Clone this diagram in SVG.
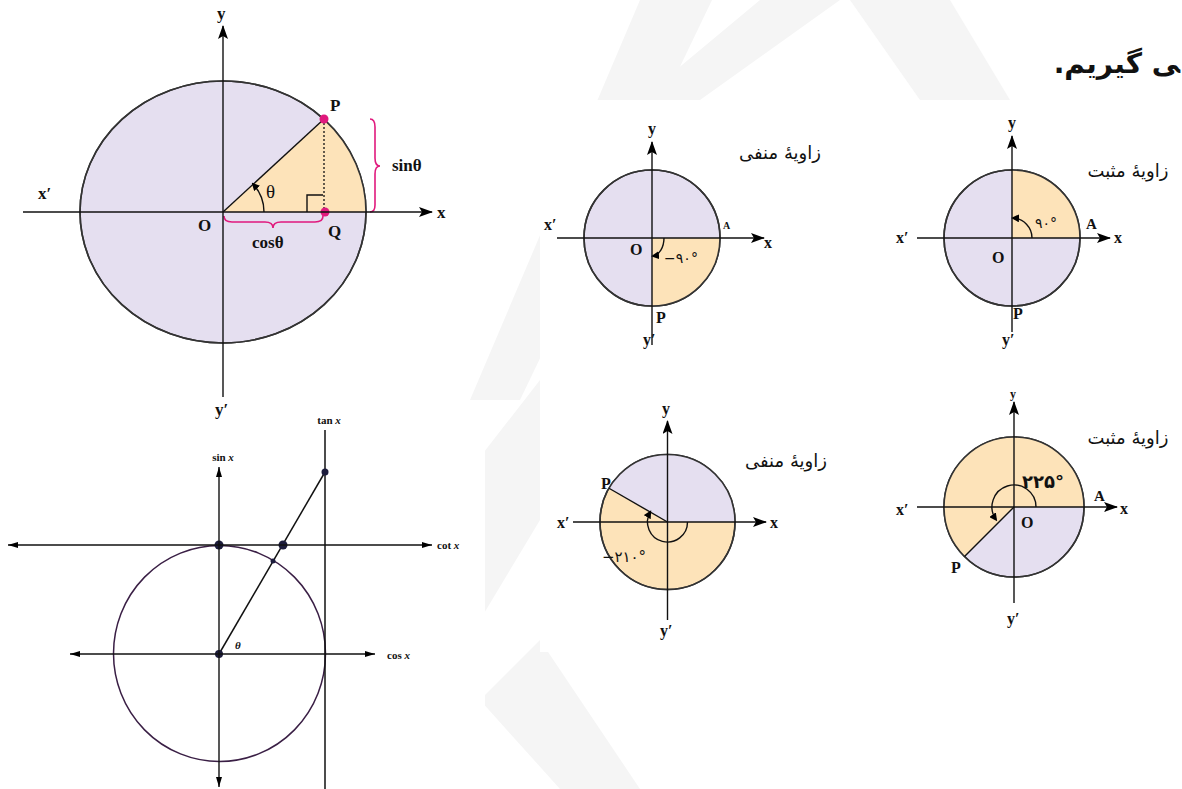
<svg xmlns="http://www.w3.org/2000/svg" width="1182" height="789" viewBox="0 0 1182 789">
<defs>
<marker id="arr" markerUnits="userSpaceOnUse" markerWidth="14" markerHeight="10" refX="13" refY="5" orient="auto-start-reverse"><path d="M0,0 L14,5 L0,10 L3,5 z" fill="#000"/></marker>
<marker id="arrs" markerUnits="userSpaceOnUse" markerWidth="10" markerHeight="6" refX="10" refY="3" orient="auto-start-reverse"><path d="M0,0 L10,3 L0,6 z" fill="#000"/></marker>
<marker id="tip" markerUnits="userSpaceOnUse" markerWidth="8" markerHeight="8" refX="6" refY="4" orient="auto"><path d="M0,0 L8,4 L0,8 z" fill="#000"/></marker>
</defs>
<style>
.ax{stroke:#111;stroke-width:1.4;fill:none}
.cir{stroke:#333;stroke-width:1.6}
.pur{fill:#e5dff0}
.ora{fill:#fde3b9}
.ln{stroke:#111;stroke-width:1.4;fill:none}
.lb{font-family:"Liberation Serif",serif;font-weight:bold;fill:#111}
.fa{font-family:"DejaVu Sans",sans-serif;fill:#111}
.mag{stroke:#e0197d;stroke-width:1.6;fill:none}
.dot{fill:#1c1c3c}
</style>
<rect width="1182" height="789" fill="#fff"/>
<g id="watermark" fill="#f5f5f5">
<polygon points="640,0 712,0 520,400 470,400"/>
<polygon points="760,0 840,0 700,100 640,100"/>
<polygon points="850,0 950,0 1010,100 920,100"/>
<polygon points="470,470 540,380 540,520 480,620"/>
<polygon points="480,700 540,640 640,789 560,789"/>
</g>
<rect x="0" y="18" width="460" height="385" fill="#fff"/>
<rect x="0" y="405" width="485" height="384" fill="#fff"/>
<rect x="540" y="100" width="642" height="552" fill="#fff"/>
<text class="fa" x="1180" y="73" font-size="28" font-weight="bold" direction="rtl" text-anchor="start">&#x200D;ی گیریم.</text>

<g id="main-circle">
<ellipse class="pur cir" cx="223" cy="212" rx="143" ry="131"/>
<path class="ora" d="M223,212 L324,119 A143,131 0 0,1 366,212 Z"/>
<ellipse cx="223" cy="212" rx="143" ry="131" fill="none" class="cir"/>
<line class="ln" x1="223" y1="212" x2="324" y2="119"/>
<line x1="324" y1="119" x2="324" y2="212" stroke="#111" stroke-width="1.3" stroke-dasharray="2,2"/>
<path class="ln" d="M307,212 V195 H323" stroke-width="1.2"/>
<path class="ln" d="M264,212 A41,41 0 0,0 253,184" stroke-width="1.3" marker-end="url(#tip)"/>
<path class="mag" d="M370,119 Q375,119 375,127 L375,158 Q375,166 380,166 Q375,166 375,174 L375,205 Q375,212 370,212"/>
<path class="mag" d="M224,216 Q224,222 232,222 L265,222 Q273,222 273,228 Q273,222 281,222 L315,222 Q323,222 323,216"/>
<circle cx="324" cy="119" r="4.5" fill="#e0197d"/>
<circle cx="325" cy="212" r="4.5" fill="#e0197d"/>
<text class="lb" x="330" y="111" font-size="17">P</text>
<text class="lb" x="328" y="237" font-size="17">Q</text>
<text class="lb" x="198" y="231" font-size="17">O</text>
<text class="lb" x="38" y="199" font-size="17">x′</text>
<text class="lb" x="437" y="218" font-size="17">x</text>
<text class="lb" x="217" y="19" font-size="17">y</text>
<text class="lb" x="215" y="415" font-size="17">y′</text>
<text class="lb" x="392" y="171" font-size="17">sinθ</text>
<text class="lb" x="252" y="248" font-size="17">cosθ</text>
<text x="266" y="198" font-family="Liberation Serif,serif" font-size="19" fill="#111">θ</text>
</g>

<g id="trig-lines">
<ellipse cx="219.5" cy="653.5" rx="106" ry="108" fill="none" stroke="#3a1f45" stroke-width="1.5"/>
<line x1="325" y1="430" x2="325" y2="789" stroke="#111" stroke-width="1.5"/>
<line x1="219" y1="654" x2="325" y2="472" stroke="#111" stroke-width="1.5"/>
<circle class="dot" cx="219" cy="545" r="4.5"/>
<circle class="dot" cx="283" cy="545" r="4.5" fill="#2a2a4a"/>
<circle class="dot" cx="325" cy="472" r="3.5"/>
<circle class="dot" cx="273" cy="561" r="2.5"/>
<circle class="dot" cx="219" cy="654" r="4"/>
<text class="lb" x="223" y="461" font-size="11" text-anchor="middle">sin <tspan font-style="italic">x</tspan></text>
<text class="lb" x="329" y="424" font-size="11" text-anchor="middle">tan <tspan font-style="italic">x</tspan></text>
<text class="lb" x="437" y="549" font-size="11">cot <tspan font-style="italic">x</tspan></text>
<text class="lb" x="387" y="659" font-size="11">cos <tspan font-style="italic">x</tspan></text>
<text class="lb" x="235" y="649" font-size="11" font-style="italic">θ</text>
</g>

<g id="neg90">
<circle class="pur cir" cx="652" cy="238" r="68"/>
<path class="ora" d="M652,238 L720,238 A68,68 0 0,1 652,306 Z"/>
<circle cx="652" cy="238" r="68" fill="none" class="cir"/>
<path class="ln" d="M664,238 A12,18 0 0,1 653,256" stroke-width="1.2" marker-end="url(#tip)"/>
<text class="lb" x="648" y="134" font-size="16">y</text>
<text class="lb" x="643" y="345" font-size="16">y′</text>
<text class="lb" x="544" y="230" font-size="16">x′</text>
<text class="lb" x="764" y="248" font-size="16">x</text>
<text class="lb" x="630" y="255" font-size="16">O</text>
<text class="lb" x="723" y="229" font-size="10">A</text>
<text class="lb" x="656" y="323" font-size="16">P</text>
<text class="fa" x="681" y="263" font-size="14" text-anchor="middle">−۹۰°</text>
<text class="fa" x="780" y="159" font-size="18" text-anchor="middle">زاویهٔ منفی</text>
</g>

<g id="pos90">
<circle class="pur cir" cx="1012" cy="238" r="68"/>
<path class="ora" d="M1012,238 L1080,238 A68,68 0 0,0 1012,170 Z"/>
<circle cx="1012" cy="238" r="68" fill="none" class="cir"/>
<path class="ln" d="M1032,238 A20,20 0 0,0 1013,218" stroke-width="1.2" marker-end="url(#tip)"/>
<text class="lb" x="1008" y="128" font-size="16">y</text>
<text class="lb" x="1002" y="345" font-size="16">y′</text>
<text class="lb" x="896" y="243" font-size="16">x′</text>
<text class="lb" x="1114" y="243" font-size="16">x</text>
<text class="lb" x="992" y="263" font-size="16">O</text>
<text class="lb" x="1086" y="229" font-size="15">A</text>
<text class="lb" x="1013" y="319" font-size="16">P</text>
<text class="fa" x="1046" y="228" font-size="14" text-anchor="middle">۹۰°</text>
<text class="fa" x="1128" y="177" font-size="18" text-anchor="middle">زاویهٔ مثبت</text>
</g>

<g id="neg210">
<circle class="ora cir" cx="667.5" cy="522" r="67.5"/>
<path class="pur" d="M667.5,522 L735,522 A67.5,67.5 0 0,0 609,488.25 Z"/>
<circle cx="667.5" cy="522" r="67.5" fill="none" class="cir"/>
<line class="ln" x1="667.5" y1="522" x2="609" y2="488.25"/>
<path class="ln" d="M687.5,522 A20,20 0 1,1 650.2,512" stroke-width="1.2" marker-end="url(#tip)"/>
<text class="lb" x="662" y="414" font-size="16">y</text>
<text class="lb" x="660" y="636" font-size="16">y′</text>
<text class="lb" x="557" y="528" font-size="16">x′</text>
<text class="lb" x="770" y="528" font-size="16">x</text>
<text class="lb" x="601" y="489" font-size="16">P</text>
<text class="fa" x="624" y="562" font-size="15" text-anchor="middle">−۲۱۰°</text>
<text class="fa" x="786" y="467" font-size="18" text-anchor="middle">زاویهٔ منفی</text>
</g>

<g id="pos225">
<circle class="pur cir" cx="1014" cy="507" r="70"/>
<path class="ora" d="M1014,507 L1084,507 A70,70 0 1,0 964.5,556.5 Z"/>
<circle cx="1014" cy="507" r="70" fill="none" class="cir"/>
<line class="ln" x1="1014" y1="507" x2="964.5" y2="556.5"/>
<path class="ln" d="M1036,507 A22,22 0 1,0 996,519.6" stroke-width="1.2" marker-end="url(#tip)"/>
<text class="lb" x="1010" y="398" font-size="12">y</text>
<text class="lb" x="1007" y="624" font-size="16">y′</text>
<text class="lb" x="896" y="515" font-size="16">x′</text>
<text class="lb" x="1120" y="514" font-size="16">x</text>
<text class="lb" x="1021" y="528" font-size="16">O</text>
<text class="lb" x="1094" y="501" font-size="15">A</text>
<text class="lb" x="951" y="573" font-size="16">P</text>
<text class="fa" x="1043" y="488" font-size="18" font-weight="bold" text-anchor="middle">۲۲۵°</text>
<text class="fa" x="1128" y="444" font-size="18" text-anchor="middle">زاویهٔ مثبت</text>
</g>

<g id="connectors">
<line class="ax" x1="223" y1="397" x2="223" y2="26" marker-end="url(#arr)"/>
<line class="ax" x1="23" y1="212" x2="432" y2="212" marker-end="url(#arr)"/>
<line class="ax" x1="219" y1="467" x2="219" y2="787" marker-start="url(#arrs)" marker-end="url(#arrs)"/>
<line class="ax" x1="8" y1="545" x2="432" y2="545" marker-start="url(#arrs)" marker-end="url(#arrs)"/>
<line class="ax" x1="70" y1="654" x2="375" y2="654" marker-start="url(#arrs)" marker-end="url(#arrs)"/>
<line class="ax" x1="652" y1="345" x2="652" y2="142" marker-end="url(#arr)"/>
<line class="ax" x1="557" y1="238" x2="764" y2="238" marker-end="url(#arr)"/>
<line class="ax" x1="1012" y1="332" x2="1012" y2="136" marker-end="url(#arr)"/>
<line class="ax" x1="917" y1="238" x2="1110" y2="238" marker-end="url(#arr)"/>
<line class="ax" x1="667.5" y1="620" x2="667.5" y2="421" marker-end="url(#arr)"/>
<line class="ax" x1="573" y1="522" x2="766" y2="522" marker-end="url(#arr)"/>
<line class="ax" x1="1014" y1="603" x2="1014" y2="402" marker-end="url(#arr)"/>
<line class="ax" x1="917" y1="507" x2="1117" y2="507" marker-end="url(#arr)"/>
</g>
</svg>
